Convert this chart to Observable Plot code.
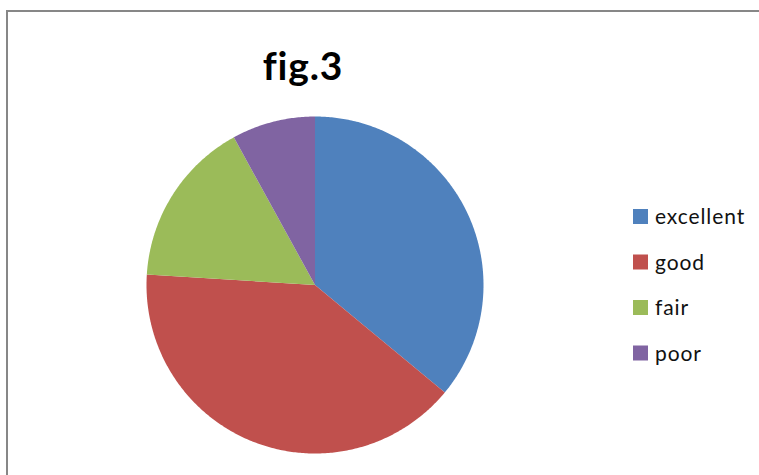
<!DOCTYPE html>
<html>
<head>
<meta charset="utf-8">
<script src="https://cdn.jsdelivr.net/npm/d3@7"></script>
<script src="https://cdn.jsdelivr.net/npm/@observablehq/plot@0.6"></script>
<style>
  html, body { margin: 0; padding: 0; background: #fff; }
  #wrap { position: relative; width: 759px; height: 475px; overflow: hidden; }
  #wrap svg { position: absolute; left: 0; top: 0; }
  text { font-variant-ligatures: none; font-feature-settings: "liga" 0; }
</style>
</head>
<body>
<div id="wrap"></div>
<script>
const title = "fig.3";
const categories = ["excellent", "good", "fair", "poor"];
const values = [36, 40, 16, 8];
const colors = ["#4F81BD", "#C0504D", "#9BBB59", "#8064A2"];

const W = 759, H = 475;
const wrap = document.getElementById("wrap");

// slices via d3.pie (clockwise from 12 o'clock), drawn as planar polygons through Plot.geo
const arcs = d3.pie().sort(null).value(d => d.value)(categories.map((c, i) => ({category: c, value: values[i]})));
const features = arcs.map(a => {
  const n = Math.max(2, Math.ceil((a.endAngle - a.startAngle) / 0.01));
  const ring = [[0, 0]];
  for (let k = 0; k <= n; ++k) {
    const t = a.startAngle + (a.endAngle - a.startAngle) * k / n;
    ring.push([Math.sin(t), -Math.cos(t)]);
  }
  ring.push([0, 0]);
  return {type: "Feature", properties: {category: a.data.category}, geometry: {type: "Polygon", coordinates: [ring]}};
});

const chart = Plot.plot({
  width: W,
  height: H,
  marginLeft: 146,
  marginRight: 276,
  marginTop: 116,
  marginBottom: 22,
  projection: {type: "identity", domain: {type: "MultiPoint", coordinates: [[-1, -1], [1, 1]]}},
  color: {domain: categories, range: colors},
  marks: [
    Plot.geo(features, {fill: d => d.properties.category, stroke: "none"})
  ]
});
wrap.appendChild(chart);

// overlay: border, title, legend
const svg = d3.select(wrap).append("svg").attr("width", W).attr("height", H);
svg.append("path").attr("d", `M7,${H + 5}V11H${W + 5}`).attr("fill", "none").attr("stroke", "#878787").attr("stroke-width", 2);
svg.append("text").attr("x", 303).attr("y", 80).attr("text-anchor", "middle")
  .attr("font-family", "Lato, 'Open Sans', sans-serif").attr("font-weight", "bold").attr("font-size", 39)
  .attr("letter-spacing", 0.8)
  .attr("fill", "#000").text(title);
const lg = svg.append("g").selectAll("g").data(categories).join("g")
  .attr("transform", (d, i) => `translate(633,${216.5 + i * 45.5})`);
lg.append("rect").attr("x", 0).attr("y", -7.5).attr("width", 15).attr("height", 15).attr("fill", (d, i) => colors[i]);
lg.append("text").attr("x", 22).attr("y", 7.5)
  .attr("font-family", "Lato, sans-serif").attr("font-size", 21).attr("fill", "#111")
  .attr("letter-spacing", 0.9)
  .text(d => d);
</script>
</body>
</html>
